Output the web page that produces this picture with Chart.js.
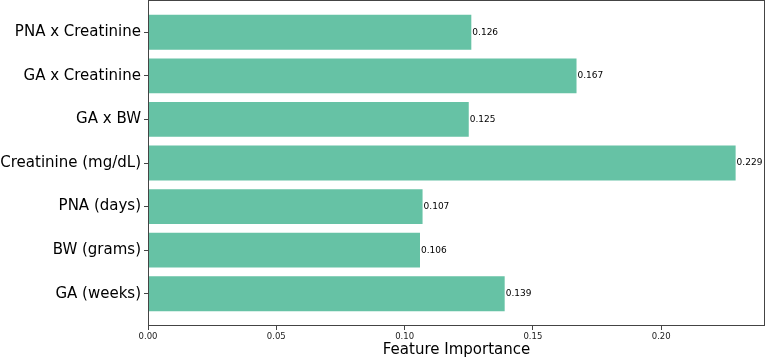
<!DOCTYPE html>
<html>
<head>
<meta charset="utf-8">
<script src="https://cdn.jsdelivr.net/npm/chart.js@4/dist/chart.umd.min.js"></script>
<style>
  html, body { margin: 0; padding: 0; background: #fff; }
  #wrap { width: 766px; height: 359px; }
</style>
</head>
<body>
<div id="wrap"><canvas id="importanceChart"></canvas></div>
<script>
// bottom to top, as matplotlib barh draws them
const features = ['GA (weeks)', 'BW (grams)', 'PNA (days)', 'Creatinine (mg/dL)', 'GA x BW', 'GA x Creatinine', 'PNA x Creatinine'];
const importances = [0.139, 0.106, 0.107, 0.229, 0.125, 0.167, 0.126];
const xTicks = [0.00, 0.05, 0.10, 0.15, 0.20];

const FONT = "'DejaVu Sans', sans-serif";

// value labels at the end of each bar
const valueLabels = {
    id: 'valueLabels',
    afterDatasetsDraw(chart) {
        const ctx = chart.ctx;
        const meta = chart.getDatasetMeta(0);
        ctx.save();
        ctx.font = '9px ' + FONT;
        ctx.fillStyle = '#000';
        ctx.textAlign = 'left';
        ctx.textBaseline = 'middle';
        meta.data.forEach((bar, i) => {
            ctx.fillText(importances[i].toFixed(3), bar.x + 1, bar.y);
        });
        ctx.restore();
    }
};

// box around the plot area (matplotlib spines)
const frame = {
    id: 'frame',
    afterDraw(chart) {
        const a = chart.chartArea;
        const ctx = chart.ctx;
        ctx.save();
        ctx.strokeStyle = '#444';
        ctx.lineWidth = 1;
        ctx.strokeRect(Math.round(a.left) + 0.5, Math.round(a.top) + 0.5,
            Math.round(a.right - a.left) - 1, Math.round(a.bottom - a.top) - 1);
        ctx.restore();
    }
};

const maxVal = Math.max(...importances) * 1.05;

new Chart(document.getElementById('importanceChart'), {
    type: 'bar',
    data: {
        datasets: [{
            data: importances.map((v, i) => ({ x: v, y: i })),
            backgroundColor: '#66c2a5',
            borderWidth: 0,
            barPercentage: 0.8,
            categoryPercentage: 1
        }]
    },
    options: {
        indexAxis: 'y',
        responsive: true,
        maintainAspectRatio: false,
        animation: false,
        layout: { padding: { top: 0, right: 1, left: 0, bottom: 0 } },
        plugins: {
            legend: { display: false },
            tooltip: { enabled: false }
        },
        scales: {
            x: {
                type: 'linear',
                min: 0,
                max: maxVal,
                afterBuildTicks: (scale) => { scale.ticks = xTicks.map(v => ({ value: v })); },
                afterFit: (scale) => { scale.height = 33; },
                grid: { drawOnChartArea: false, drawTicks: true, tickLength: 4, color: '#444' },
                border: { display: false },
                ticks: {
                    color: '#222',
                    font: { family: FONT, size: 8.5 },
                    padding: 2,
                    maxRotation: 0,
                    callback: (v) => Number(v).toFixed(2)
                },
                title: {
                    display: true,
                    text: 'Feature Importance',
                    color: '#000',
                    font: { family: FONT, size: 15 },
                    padding: { top: 0, bottom: 0 }
                }
            },
            y: {
                type: 'linear',
                offset: false,
                min: -0.74,
                max: features.length - 1 + 0.74,
                afterBuildTicks: (scale) => { scale.ticks = features.map((f, i) => ({ value: i })); },
                afterFit: (scale) => {
                    scale.width = 148;
                    scale.paddingTop = 0;
                    scale.paddingBottom = 0;
                },
                grid: { offset: false, drawOnChartArea: false, drawTicks: true, tickLength: 4, color: '#444' },
                border: { display: false },
                ticks: {
                    color: '#000',
                    font: { family: FONT, size: 15 },
                    padding: 3,
                    callback: (v) => features[v]
                }
            }
        }
    },
    plugins: [valueLabels, frame]
});
</script>
</body>
</html>
